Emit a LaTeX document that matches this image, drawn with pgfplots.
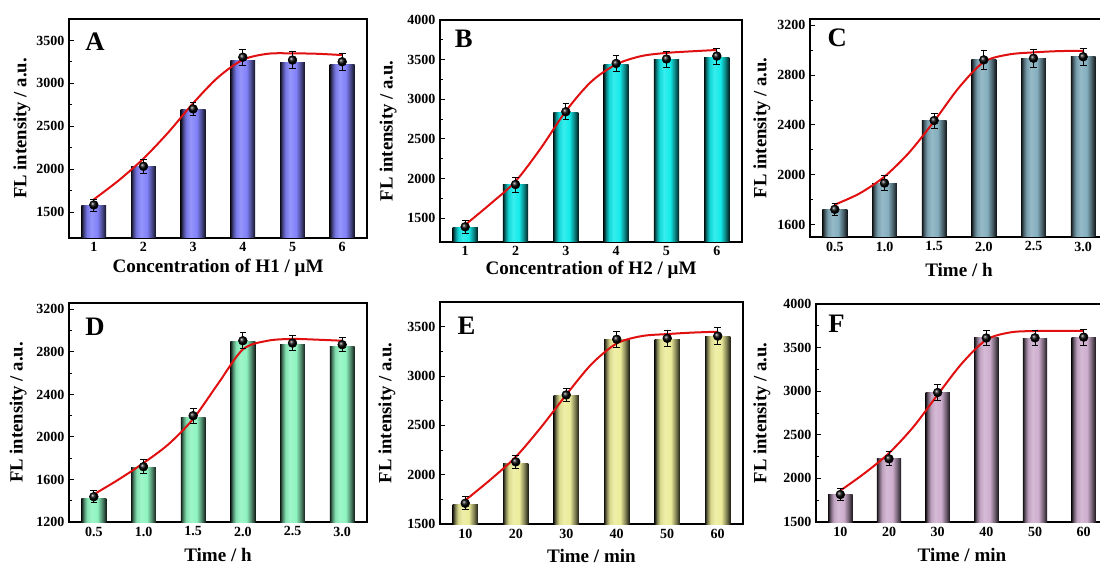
\documentclass[border=0pt]{standalone}
\usepackage{fontspec}
\setmainfont{Liberation Serif}
\usepackage{pgfplots}
\pgfplotsset{compat=1.18}

\definecolor{cA}{HTML}{8282FA}
\definecolor{cB}{HTML}{14EAEA}
\definecolor{cC}{HTML}{84AEBE}
\definecolor{cD}{HTML}{8EF4C0}
\definecolor{cE}{HTML}{ECEC9A}
\definecolor{cF}{HTML}{CEAECE}
\definecolor{fitred}{HTML}{E01010}

\newcommand\mkshade[1]{\pgfdeclarehorizontalshading{sh#1}{100bp}{color(0bp)=(#1!10!black); color(25bp)=(#1!10!black); color(30bp)=(#1!55!black); color(36bp)=(#1!92!black); color(45bp)=(#1!85!white); color(57bp)=(#1); color(67bp)=(#1!55!black); color(75bp)=(#1!12!black); color(100bp)=(#1!12!black)}}
\mkshade{cA}\mkshade{cB}\mkshade{cC}\mkshade{cD}\mkshade{cE}\mkshade{cF}

\tikzset{letter/.style={font=\bfseries\fontsize{20}{22}\selectfont, anchor=north west, inner sep=0pt}}

\pgfplotsset{
  panel/.style={
    scale only axis,
    anchor=north west,
    xmin=0.5, xmax=6.5,
    xtick={1,2,3,4,5,6},
    major x tick style={draw=none},
    ytick pos=left,
    tick align=inside,
    minor y tick num=1,
    axis line style={line width=0.9pt},
    every tick/.style={black, line width=0.7pt},
    major tick length=4pt, minor tick length=2.5pt,
    tick label style={font=\bfseries\fontsize{10.5}{12}\selectfont},
    /pgf/number format/assume math mode=true,
    /pgf/number format/1000 sep={},
    scaled y ticks=false,
    ylabel={FL intensity / a.u.},
    every axis y label/.style={at={(axis description cs:#1,0.5)}, rotate=90, anchor=center,
      font=\bfseries\fontsize{14}{16}\selectfont},
    every axis x label/.style={at={(axis description cs:0.5,0)}, anchor=center,
      font=\bfseries\fontsize{14.3}{16}\selectfont},
  },
  bars/.style={ybar, bar width=0.5, draw=none, shading=sh#1},
  fit/.style={fitred, line width=1.5pt, smooth},
  pts/.style={only marks, mark=ball, mark size=3.3pt, mark options={ball color=black},
    error bars/.cd, y dir=both, y explicit,
    error bar style={line width=0.6pt, black},
    error mark options={rotate=90, mark size=2.5pt, line width=0.6pt, black}},
}

\begin{document}
\begin{tikzpicture}
\useasboundingbox (0,0) rectangle (825pt,423.75pt);
\clip (0,0) rectangle (825pt,423.75pt);

% ---------- A ----------
\begin{axis}[panel=-0.158, at={(51.75pt,409.5pt)}, width=223.5pt, height=164.25pt,
  ymin=1200, ymax=3750, ytick={1500,2000,2500,3000,3500},
  xlabel={Concentration of H1 / μM}, xlabel style={yshift=-22.5pt}]
\addplot[bars=cA] coordinates {(1,1581)};
\addplot[bars=cA] coordinates {(2,2028)};
\addplot[bars=cA] coordinates {(3,2691)};
\addplot[bars=cA] coordinates {(4,3269)};
\addplot[bars=cA] coordinates {(5,3238)};
\addplot[bars=cA] coordinates {(6,3223)};
\addplot[fit] coordinates {(1,1650) (1.5,1870) (2,2125) (2.5,2430) (3,2770) (3.5,3070) (4,3275) (4.5,3345) (5,3350) (5.5,3345) (6,3330)};
\addplot[pts] coordinates {(1,1585) +- (0,70) (2,2035) +- (0,80) (3,2703) +- (0,80) (4,3305) +- (0,95) (5,3272) +- (0,95) (6,3252) +- (0,95)};
\node[letter] at (rel axis cs:0,1) [xshift=12pt, yshift=-10pt] {A};
\end{axis}

% ---------- B ----------
\begin{axis}[panel=-0.172, at={(330pt,408.75pt)}, width=226.5pt, height=166.5pt,
  ymin=1200, ymax=4000, ytick={1500,2000,2500,3000,3500,4000},
  xlabel={Concentration of H2 / μM}, xlabel style={yshift=-21pt}]
\addplot[bars=cB] coordinates {(1,1382)};
\addplot[bars=cB] coordinates {(2,1920)};
\addplot[bars=cB] coordinates {(3,2832)};
\addplot[bars=cB] coordinates {(4,3433)};
\addplot[bars=cB] coordinates {(5,3496)};
\addplot[bars=cB] coordinates {(6,3529)};
\addplot[fit] coordinates {(1,1416) (1.5,1680) (2,1965) (2.5,2380) (3,2850) (3.5,3220) (4,3440) (4.5,3545) (5,3585) (5.5,3605) (6,3622)};
\addplot[pts] coordinates {(1,1392) +- (0,80) (2,1925) +- (0,95) (3,2843) +- (0,100) (4,3452) +- (0,100) (5,3508) +- (0,100) (6,3545) +- (0,100)};
\node[letter] at (rel axis cs:0,1) [xshift=11pt, yshift=-7pt] {B};
\end{axis}

% ---------- C ----------
\begin{axis}[panel=-0.161, at={(607.5pt,409.5pt)}, width=223.5pt, height=163.5pt,
  ymin=1500, ymax=3250, ytick={1600,2000,2400,2800,3200},
  xticklabels={0.5,1.0,1.5,2.0,2.5,3.0},
  xlabel={Time / h}, xlabel style={yshift=-24.75pt}]
\addplot[bars=cC] coordinates {(1,1720)};
\addplot[bars=cC] coordinates {(2,1933)};
\addplot[bars=cC] coordinates {(3,2435)};
\addplot[bars=cC] coordinates {(4,2925)};
\addplot[bars=cC] coordinates {(5,2933)};
\addplot[bars=cC] coordinates {(6,2947)};
\addplot[fit] coordinates {(1,1760) (1.5,1850) (2,1985) (2.5,2180) (3,2430) (3.5,2700) (4,2905) (4.5,2965) (5,2982) (5.5,2992) (6,2995)};
\addplot[pts] coordinates {(1,1722) +- (0,50) (2,1933) +- (0,60) (3,2435) +- (0,60) (4,2922) +- (0,75) (5,2935) +- (0,70) (6,2947) +- (0,70)};
\node[letter] at (rel axis cs:0,1) [xshift=13pt, yshift=-7pt] {C};
\end{axis}

% ---------- D ----------
\begin{axis}[panel=-0.171, at={(51.75pt,196.5pt)}, width=223.5pt, height=164.25pt,
  ymin=1200, ymax=3260, ytick={1200,1600,2000,2400,2800,3200},
  xticklabels={0.5,1.0,1.5,2.0,2.5,3.0},
  xlabel={Time / h}, xlabel style={yshift=-24.75pt}]
\addplot[bars=cD] coordinates {(1,1420)};
\addplot[bars=cD] coordinates {(2,1709)};
\addplot[bars=cD] coordinates {(3,2186)};
\addplot[bars=cD] coordinates {(4,2895)};
\addplot[bars=cD] coordinates {(5,2870)};
\addplot[bars=cD] coordinates {(6,2854)};
\addplot[fit] coordinates {(1,1460) (1.5,1600) (2,1755) (2.5,1930) (3,2170) (3.5,2500) (4,2823) (4.5,2905) (5,2922) (5.5,2915) (6,2905)};
\addplot[pts] coordinates {(1,1438) +- (0,55) (2,1720) +- (0,65) (3,2200) +- (0,70) (4,2905) +- (0,75) (5,2883) +- (0,70) (6,2868) +- (0,65)};
\node[letter] at (rel axis cs:0,1) [xshift=12pt, yshift=-11pt] {D};
\end{axis}

% ---------- E ----------
\begin{axis}[panel=-0.175, at={(330pt,197.25pt)}, width=227.25pt, height=166.5pt,
  ymin=1500, ymax=3750, ytick={1500,2000,2500,3000,3500},
  xticklabels={10,20,30,40,50,60},
  xlabel={Time / min}, xlabel style={yshift=-24pt}]
\addplot[bars=cE] coordinates {(1,1702)};
\addplot[bars=cE] coordinates {(2,2117)};
\addplot[bars=cE] coordinates {(3,2802)};
\addplot[bars=cE] coordinates {(4,3365)};
\addplot[bars=cE] coordinates {(5,3372)};
\addplot[bars=cE] coordinates {(6,3399)};
\addplot[fit] coordinates {(1,1740) (1.5,1950) (2,2180) (2.5,2480) (3,2810) (3.5,3120) (4,3330) (4.5,3405) (5,3425) (5.5,3440) (6,3449)};
\addplot[pts] coordinates {(1,1710) +- (0,65) (2,2130) +- (0,70) (3,2808) +- (0,70) (4,3372) +- (0,85) (5,3382) +- (0,85) (6,3405) +- (0,85)};
\node[letter] at (rel axis cs:0,1) [xshift=13pt, yshift=-11pt] {E};
\end{axis}

% ---------- F ----------
\begin{axis}[panel=-0.185, at={(612pt,195.75pt)}, width=219pt, height=163.5pt,
  ymin=1500, ymax=4000, ytick={1500,2000,2500,3000,3500,4000},
  xticklabels={10,20,30,40,50,60},
  xlabel={Time / min}, xlabel style={yshift=-24.75pt}]
\addplot[bars=cF] coordinates {(1,1815)};
\addplot[bars=cF] coordinates {(2,2225)};
\addplot[bars=cF] coordinates {(3,2980)};
\addplot[bars=cF] coordinates {(4,3615)};
\addplot[bars=cF] coordinates {(5,3610)};
\addplot[bars=cF] coordinates {(6,3620)};
\addplot[fit] coordinates {(1,1860) (1.5,2060) (2,2290) (2.5,2590) (3,2960) (3.5,3320) (4,3590) (4.5,3675) (5,3690) (5.5,3692) (6,3692)};
\addplot[pts] coordinates {(1,1815) +- (0,70) (2,2225) +- (0,80) (3,2985) +- (0,90) (4,3610) +- (0,90) (5,3612) +- (0,90) (6,3620) +- (0,90)};
\node[letter] at (rel axis cs:0,1) [xshift=9pt, yshift=-8pt] {F};
\end{axis}
\end{tikzpicture}
\end{document}
